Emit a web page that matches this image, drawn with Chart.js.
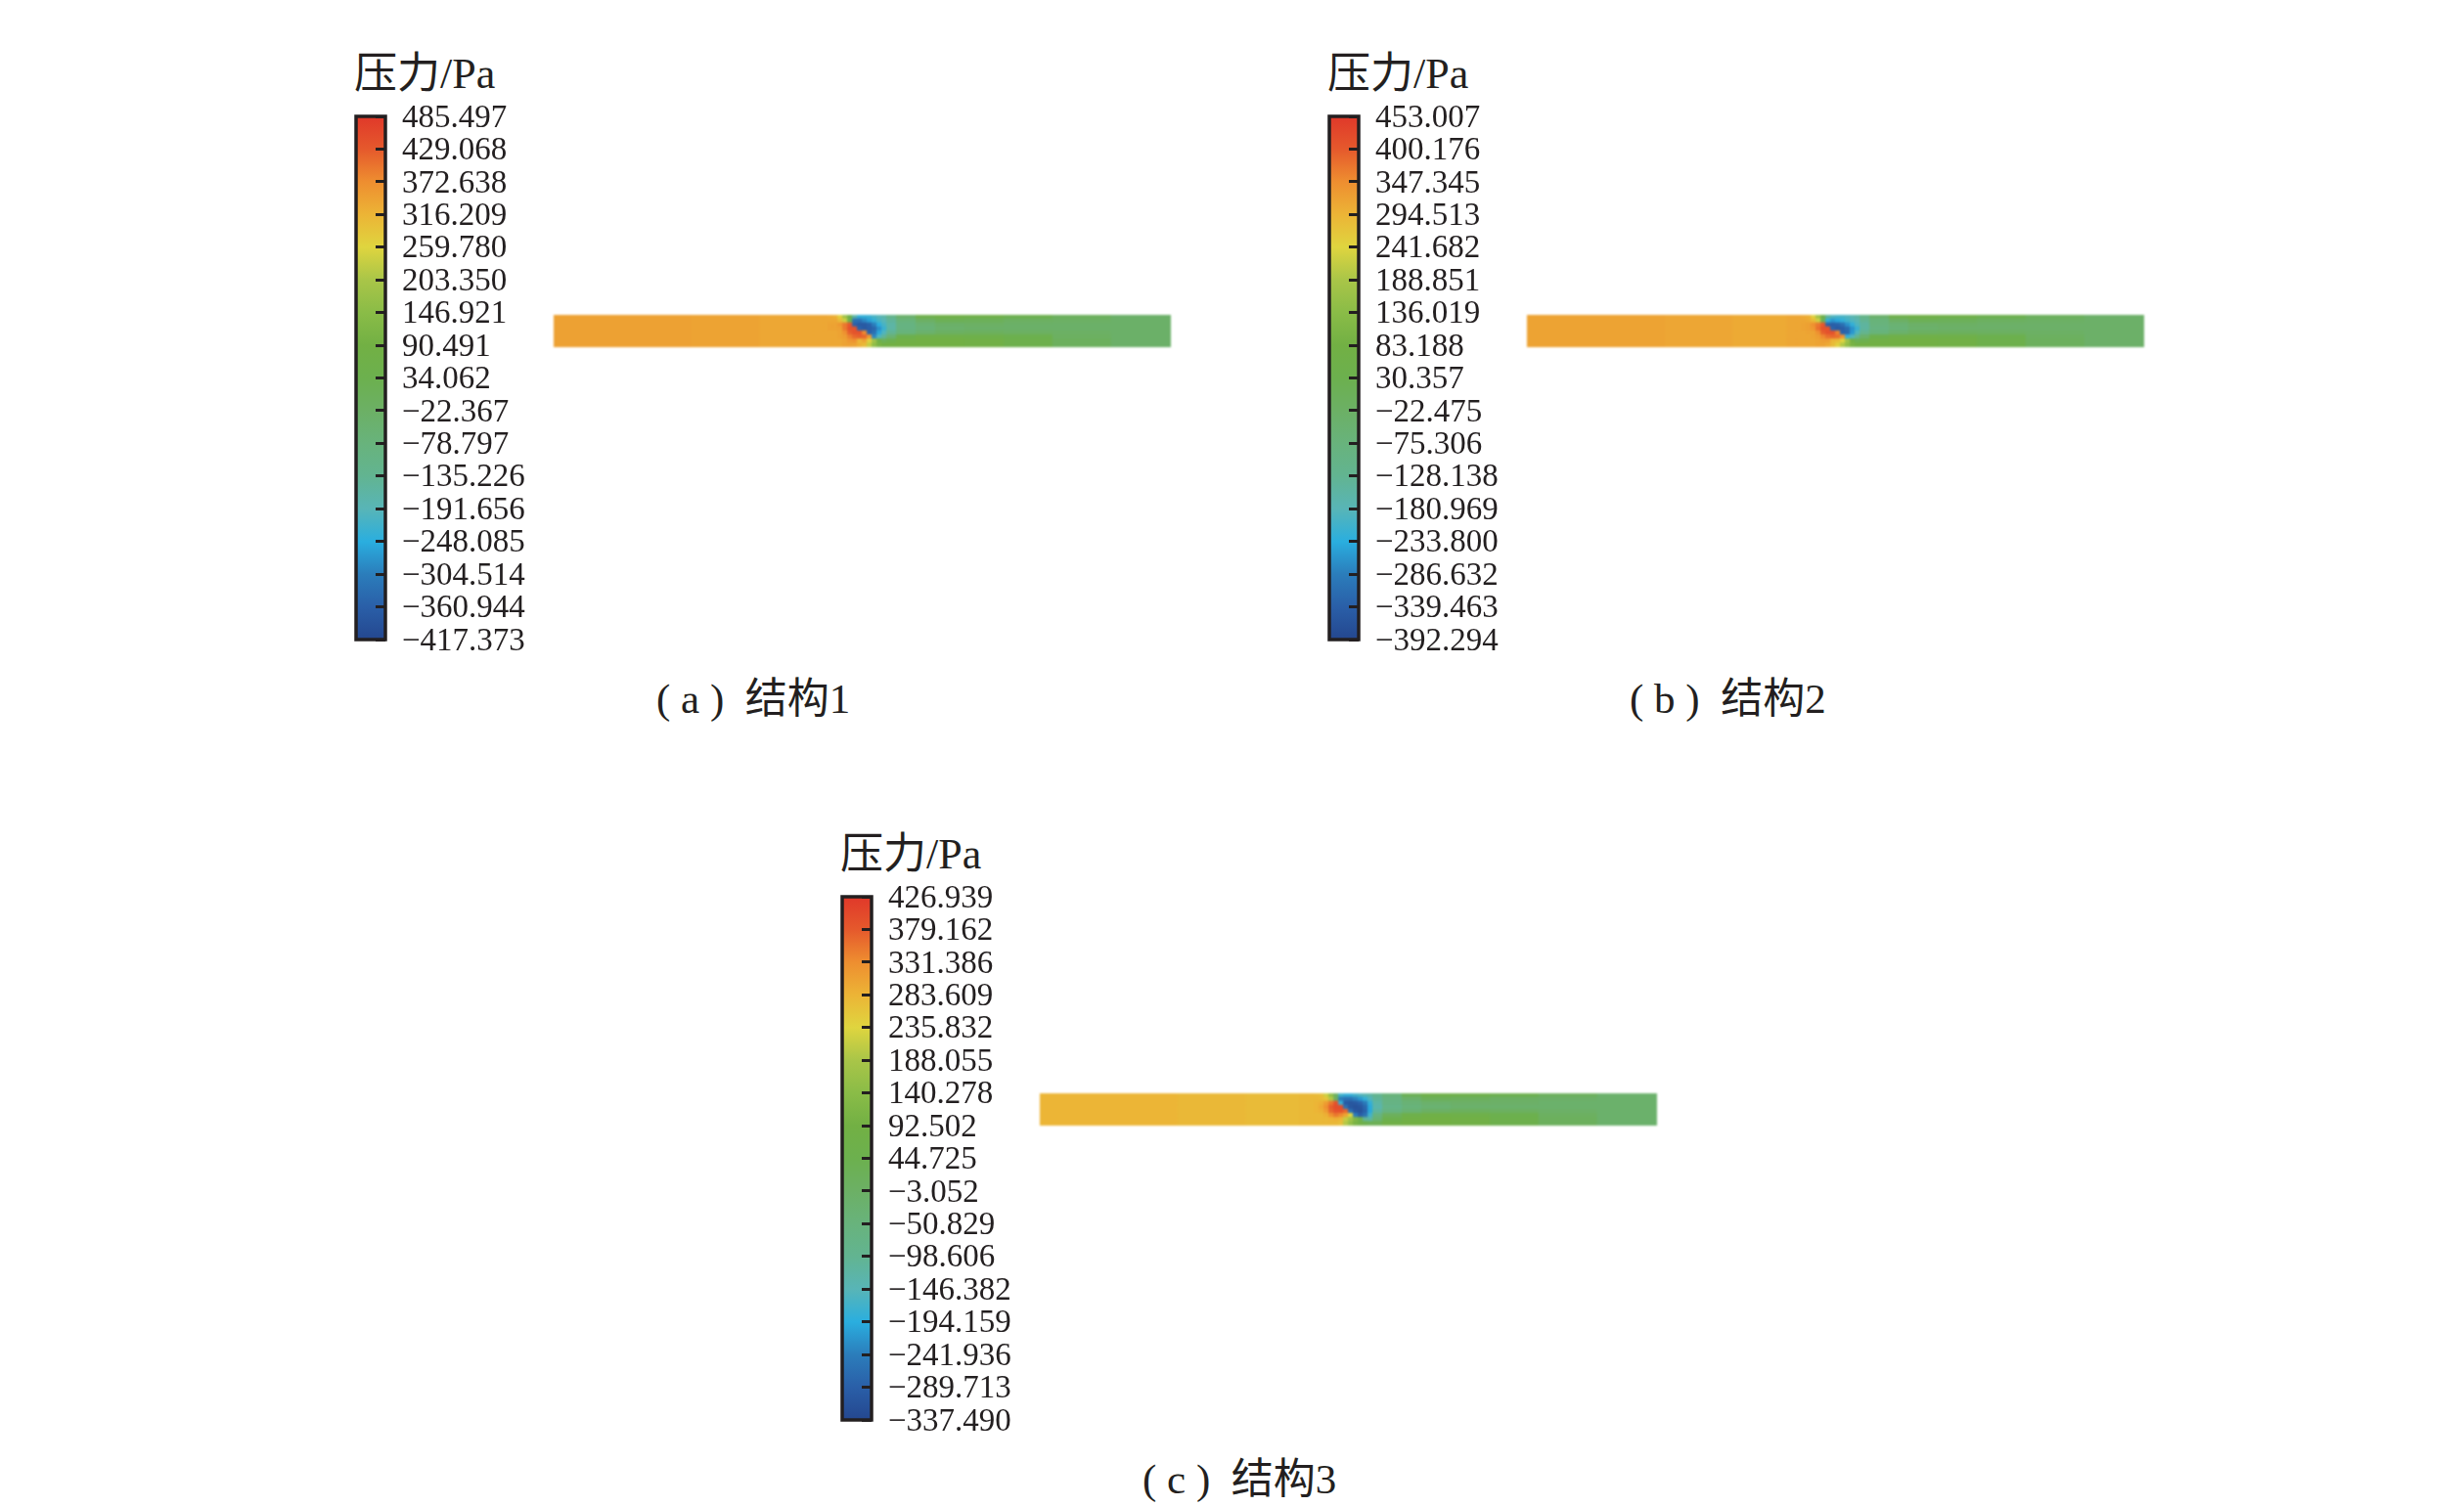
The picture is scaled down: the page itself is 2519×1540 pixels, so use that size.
<!DOCTYPE html>
<html>
<head>
<meta charset="utf-8">
<title>压力</title>
<script src="https://cdn.jsdelivr.net/npm/chart.js@4/dist/chart.umd.min.js"></script>
<style>
html, body { margin: 0; padding: 0; background: #fff; }
#page { position: relative; width: 2519px; height: 1540px; overflow: hidden; background: #fff; }
canvas { position: absolute; }
.field { filter: blur(0.8px); }
.txt { position: absolute; color: #231f20; white-space: pre; font-family: "Liberation Serif", "Noto Sans CJK SC", serif; }
.head { font-size: 44px; line-height: 50px; }
.cap { font-size: 43px; line-height: 50px; }
</style>
</head>
<body>
<div id="page"></div>
<script>
// colour bar readings
var ticksA = [485.497, 429.068, 372.638, 316.209, 259.780, 203.350, 146.921, 90.491, 34.062, -22.367, -78.797, -135.226, -191.656, -248.085, -304.514, -360.944, -417.373];
var ticksB = [453.007, 400.176, 347.345, 294.513, 241.682, 188.851, 136.019, 83.188, 30.357, -22.475, -75.306, -128.138, -180.969, -233.800, -286.632, -339.463, -392.294];
var ticksC = [426.939, 379.162, 331.386, 283.609, 235.832, 188.055, 140.278, 92.502, 44.725, -3.052, -50.829, -98.606, -146.382, -194.159, -241.936, -289.713, -337.490];

var colorPos = [0, 0.0625, 0.125, 0.1875, 0.25, 0.3125, 0.375, 0.4375, 0.5, 0.5625, 0.625, 0.6875, 0.75, 0.8125, 0.875, 0.9375, 1];
var colorHex = ['#e0382a', '#e5592c', '#ee8e30', '#ecb436', '#dfd53f', '#a9c548', '#8abc47', '#72b044', '#6cb04e', '#6cb065', '#68b37c', '#62b491', '#58b5b7', '#2aaedf', '#2b7dbb', '#2a5fa8', '#24478f'];

// channel length read along the strip, column edges
var colEdges = [0, 70, 140, 210, 265, 275, 280, 285, 290, 295, 300, 305, 310, 315, 320, 325, 330, 335, 340, 350, 370, 390, 420, 460, 510, 570, 632];
var rowNames = ['r0', 'r1', 'r2', 'r3', 'r4', 'r5', 'r6', 'r7'];

var fieldA = [
  [345, 345, 341, 336, 336, 336, 331, 322, 268, 187, 52, -165, -237, -237, -228, -210, -192, -174, -120, -39, 52, 70, 61, 34, -3, -30],
  [345, 345, 341, 336, 336, 336, 336, 336, 304, 241, 34, -328, -328, -292, -264, -237, -210, -192, -147, -75, -21, 16, 7, -12, -21, -30],
  [345, 345, 341, 336, 336, 336, 341, 341, 359, 395, 431, -355, -373, -373, -355, -301, -246, -210, -165, -93, -57, -30, -21, -30, -30, -30],
  [345, 345, 341, 336, 336, 336, 341, 341, 345, 395, 440, 440, -355, -373, -364, -346, -283, -228, -165, -93, -66, -39, -30, -30, -30, -30],
  [345, 345, 341, 336, 336, 336, 336, 336, 341, 368, 422, 440, 440, 377, -355, -328, -256, -201, -138, -75, -39, -12, -3, -12, -21, -30],
  [345, 345, 341, 336, 336, 336, 336, 336, 341, 350, 386, 413, 422, 413, 359, -292, -201, -147, -57, 34, 61, 61, 52, 34, -12, -30],
  [345, 345, 341, 336, 336, 336, 336, 336, 336, 341, 359, 368, 313, 341, 268, 187, 79, 7, 34, 79, 88, 88, 79, 43, -3, -30],
  [345, 345, 341, 336, 336, 336, 336, 336, 336, 341, 345, 341, 322, 304, 232, 160, 106, 88, 88, 88, 88, 88, 79, 43, -3, -30]
];
var fieldB = [
  [318, 318, 314, 309, 314, 314, 309, 301, 250, 174, 47, -139, -189, -198, -198, -189, -172, -155, -105, -37, 47, 64, 56, 31, -3, -29],
  [318, 318, 314, 309, 314, 314, 314, 309, 284, 225, 14, -223, -257, -240, -223, -206, -189, -172, -130, -71, -20, 14, 5, -12, -20, -29],
  [318, 318, 314, 309, 314, 314, 318, 322, 343, 369, 402, -333, -341, -333, -308, -265, -223, -189, -147, -79, -54, -29, -20, -29, -29, -29],
  [318, 318, 314, 309, 314, 314, 318, 322, 335, 377, 411, 411, -333, -350, -341, -316, -265, -215, -147, -88, -62, -37, -29, -29, -29, -29],
  [318, 318, 314, 309, 314, 314, 314, 318, 318, 343, 394, 411, 411, 360, -333, -324, -257, -189, -122, -71, -37, -12, -3, -12, -20, -29],
  [318, 318, 314, 309, 314, 314, 314, 314, 318, 326, 352, 377, 385, 377, 343, -223, -189, -122, -37, 31, 56, 64, 56, 31, -12, -29],
  [318, 318, 314, 309, 314, 314, 314, 314, 314, 318, 326, 326, 292, 284, 242, 174, 81, 14, 31, 73, 81, 81, 73, 39, -3, -29],
  [318, 318, 314, 309, 314, 314, 314, 314, 314, 318, 318, 309, 284, 250, 200, 149, 98, 81, 81, 81, 81, 81, 73, 39, -3, -29]
];
var fieldC = [
  [282, 282, 278, 274, 278, 278, 274, 267, 221, 152, 7, -169, -184, -184, -169, -154, -138, -123, -93, -47, 30, 68, 60, 45, 14, -16],
  [282, 282, 278, 274, 278, 278, 278, 274, 259, 198, 7, -245, -261, -261, -238, -215, -184, -154, -108, -62, -16, 22, 14, -1, -8, -16],
  [282, 282, 278, 274, 278, 278, 282, 289, 312, 351, 389, -184, -299, -306, -299, -283, -245, -184, -123, -70, -39, -16, -8, -8, -16, -16],
  [282, 282, 278, 274, 278, 278, 282, 297, 328, 374, 396, 396, -261, -306, -314, -306, -276, -199, -131, -77, -47, -31, -16, -16, -16, -16],
  [282, 282, 278, 274, 278, 278, 282, 289, 312, 366, 389, 389, 366, -261, -306, -314, -283, -199, -115, -62, -31, -1, 14, 7, -8, -16],
  [282, 282, 278, 274, 278, 278, 278, 278, 289, 328, 351, 335, 305, 236, -245, -291, -261, -169, -62, 14, 60, 76, 68, 45, 7, -16],
  [282, 282, 278, 274, 278, 278, 278, 278, 278, 282, 289, 282, 213, 175, 121, 45, -108, -123, -31, 45, 83, 91, 83, 53, 14, -16],
  [282, 282, 278, 274, 278, 278, 278, 278, 278, 278, 278, 267, 198, 152, 106, 76, 45, 30, 30, 76, 91, 91, 83, 53, 14, -16]
];

// white guide vane edge, along the strip and down from its top
var vaneXA = [300, 325];
var vaneYA = [9, 23];
var vaneXB = [302, 326];
var vaneYB = [10, 22];
var vaneXC = [302, 308, 316, 327];
var vaneYC = [11, 17, 21, 25];

var inkColor = '#231f20';
var page = document.getElementById('page');
Chart.defaults.font.family = '"Liberation Serif", serif';

function hexToRgb(hex) {
  return [parseInt(hex.substr(1, 2), 16), parseInt(hex.substr(3, 2), 16), parseInt(hex.substr(5, 2), 16)];
}

// colour of a pressure on the panel's own bar
function pressureColor(p, top, bottom) {
  var f = (top - p) / (top - bottom);
  f = Math.max(0, Math.min(1, f));
  var i = 0;
  while (i < colorPos.length - 2 && f > colorPos[i + 1]) i++;
  var t = (f - colorPos[i]) / (colorPos[i + 1] - colorPos[i]);
  var a = hexToRgb(colorHex[i]);
  var b = hexToRgb(colorHex[i + 1]);
  return 'rgb(' + Math.round(a[0] + (b[0] - a[0]) * t) + ',' + Math.round(a[1] + (b[1] - a[1]) * t) + ',' + Math.round(a[2] + (b[2] - a[2]) * t) + ')';
}

function addCanvas(left, top, w, h, cls) {
  var c = document.createElement('canvas');
  c.width = w;
  c.height = h;
  c.style.left = left + 'px';
  c.style.top = top + 'px';
  c.style.width = w + 'px';
  c.style.height = h + 'px';
  if (cls) c.className = cls;
  page.appendChild(c);
  return c;
}

function addText(text, left, top, cls) {
  var d = document.createElement('div');
  d.className = 'txt ' + cls;
  d.textContent = text;
  d.style.left = left + 'px';
  d.style.top = top + 'px';
  page.appendChild(d);
}

var barFrame = {
  id: 'barFrame',
  afterDatasetsDraw: function (chart) {
    var y = chart.scales.y, a = chart.chartArea, g = chart.ctx;
    var top = y.getPixelForValue(y.max), bottom = y.getPixelForValue(y.min);
    g.save();
    g.strokeStyle = inkColor;
    g.lineWidth = 3.5;
    g.strokeRect(a.left, top, a.right - a.left, bottom - top);
    g.restore();
  }
};

function drawColorBar(ticks, left, top) {
  var max = ticks[0], min = ticks[ticks.length - 1];
  var canvas = addCanvas(left, top - 30, 200, 595);
  new Chart(canvas, {
    type: 'bar',
    data: {
      labels: ['p'],
      datasets: [{
        data: [[min, max]],
        barPercentage: 1,
        categoryPercentage: 1,
        backgroundColor: function (ctx) {
          var area = ctx.chart.chartArea;
          if (!area) return colorHex[0];
          var grad = ctx.chart.ctx.createLinearGradient(0, area.top, 0, area.bottom);
          colorPos.forEach(function (pos, i) { grad.addColorStop(pos, colorHex[i]); });
          return grad;
        }
      }]
    },
    options: {
      responsive: false,
      animation: false,
      events: [],
      layout: { padding: { left: 2, top: 30, bottom: 30 } },
      plugins: { legend: { display: false }, tooltip: { enabled: false } },
      scales: {
        x: { display: false },
        y: {
          position: 'right',
          min: min,
          max: max,
          afterFit: function (s) { s.width = 168; s.paddingTop = 0; s.paddingBottom = 0; },
          afterBuildTicks: function (s) { s.ticks = ticks.map(function (v) { return { value: v }; }); },
          border: { display: false },
          grid: { z: 1, drawOnChartArea: false, tickLength: -10, tickWidth: 3, tickColor: inkColor },
          ticks: {
            autoSkip: false,
            padding: 27,
            labelOffset: 2,
            color: inkColor,
            font: { size: 33 },
            callback: function (v) { return v.toFixed(3).replace('-', '\u2212'); }
          }
        }
      }
    },
    plugins: [barFrame]
  });
}

function drawField(field, ticks, vaneX, vaneY, left, top) {
  var max = ticks[0], min = ticks[ticks.length - 1];
  var canvas = addCanvas(left, top, 631, 33, 'field');
  var sets = [];
  for (var c = 0; c < colEdges.length - 1; c++) {
    (function (c) {
      sets.push({
        type: 'bar',
        indexAxis: 'y',
        xAxisID: 'x',
        yAxisID: 'y',
        barPercentage: 1,
        categoryPercentage: 1,
        inflateAmount: 0.6,
        data: rowNames.map(function () { return colEdges[c + 1] - colEdges[c]; }),
        backgroundColor: function (ctx) { return pressureColor(field[ctx.dataIndex][c], max, min); }
      });
    })(c);
  }
  sets.push({
    type: 'line',
    xAxisID: 'x',
    yAxisID: 'yv',
    data: vaneX.map(function (x, i) { return { x: x, y: vaneY[i] }; }),
    borderColor: '#ffffff',
    borderWidth: 2,
    pointRadius: 0,
    parsing: false
  });
  new Chart(canvas, {
    data: { labels: rowNames, datasets: sets },
    options: {
      responsive: false,
      animation: false,
      events: [],
      layout: { padding: 0 },
      plugins: { legend: { display: false }, tooltip: { enabled: false } },
      scales: {
        x: { type: 'linear', display: false, stacked: true, min: 0, max: 632 },
        y: { type: 'category', display: false, stacked: true, offset: true },
        yv: { type: 'linear', display: false, reverse: true, min: 0, max: 32 }
      }
    }
  });
}

// panel a
addText('压力/Pa', 362, 51, 'head');
drawColorBar(ticksA, 362, 119);
drawField(fieldA, ticksA, vaneXA, vaneYA, 566, 322);
addText('( a )\u2002结构1', 671, 690, 'cap');

// panel b
addText('压力/Pa', 1357, 51, 'head');
drawColorBar(ticksB, 1357, 119);
drawField(fieldB, ticksB, vaneXB, vaneYB, 1561, 322);
addText('( b )\u2002结构2', 1666, 690, 'cap');

// panel c
addText('压力/Pa', 859, 849, 'head');
drawColorBar(ticksC, 859, 917);
drawField(fieldC, ticksC, vaneXC, vaneYC, 1063, 1118);
addText('( c )\u2002结构3', 1168, 1488, 'cap');
</script>
</body>
</html>
